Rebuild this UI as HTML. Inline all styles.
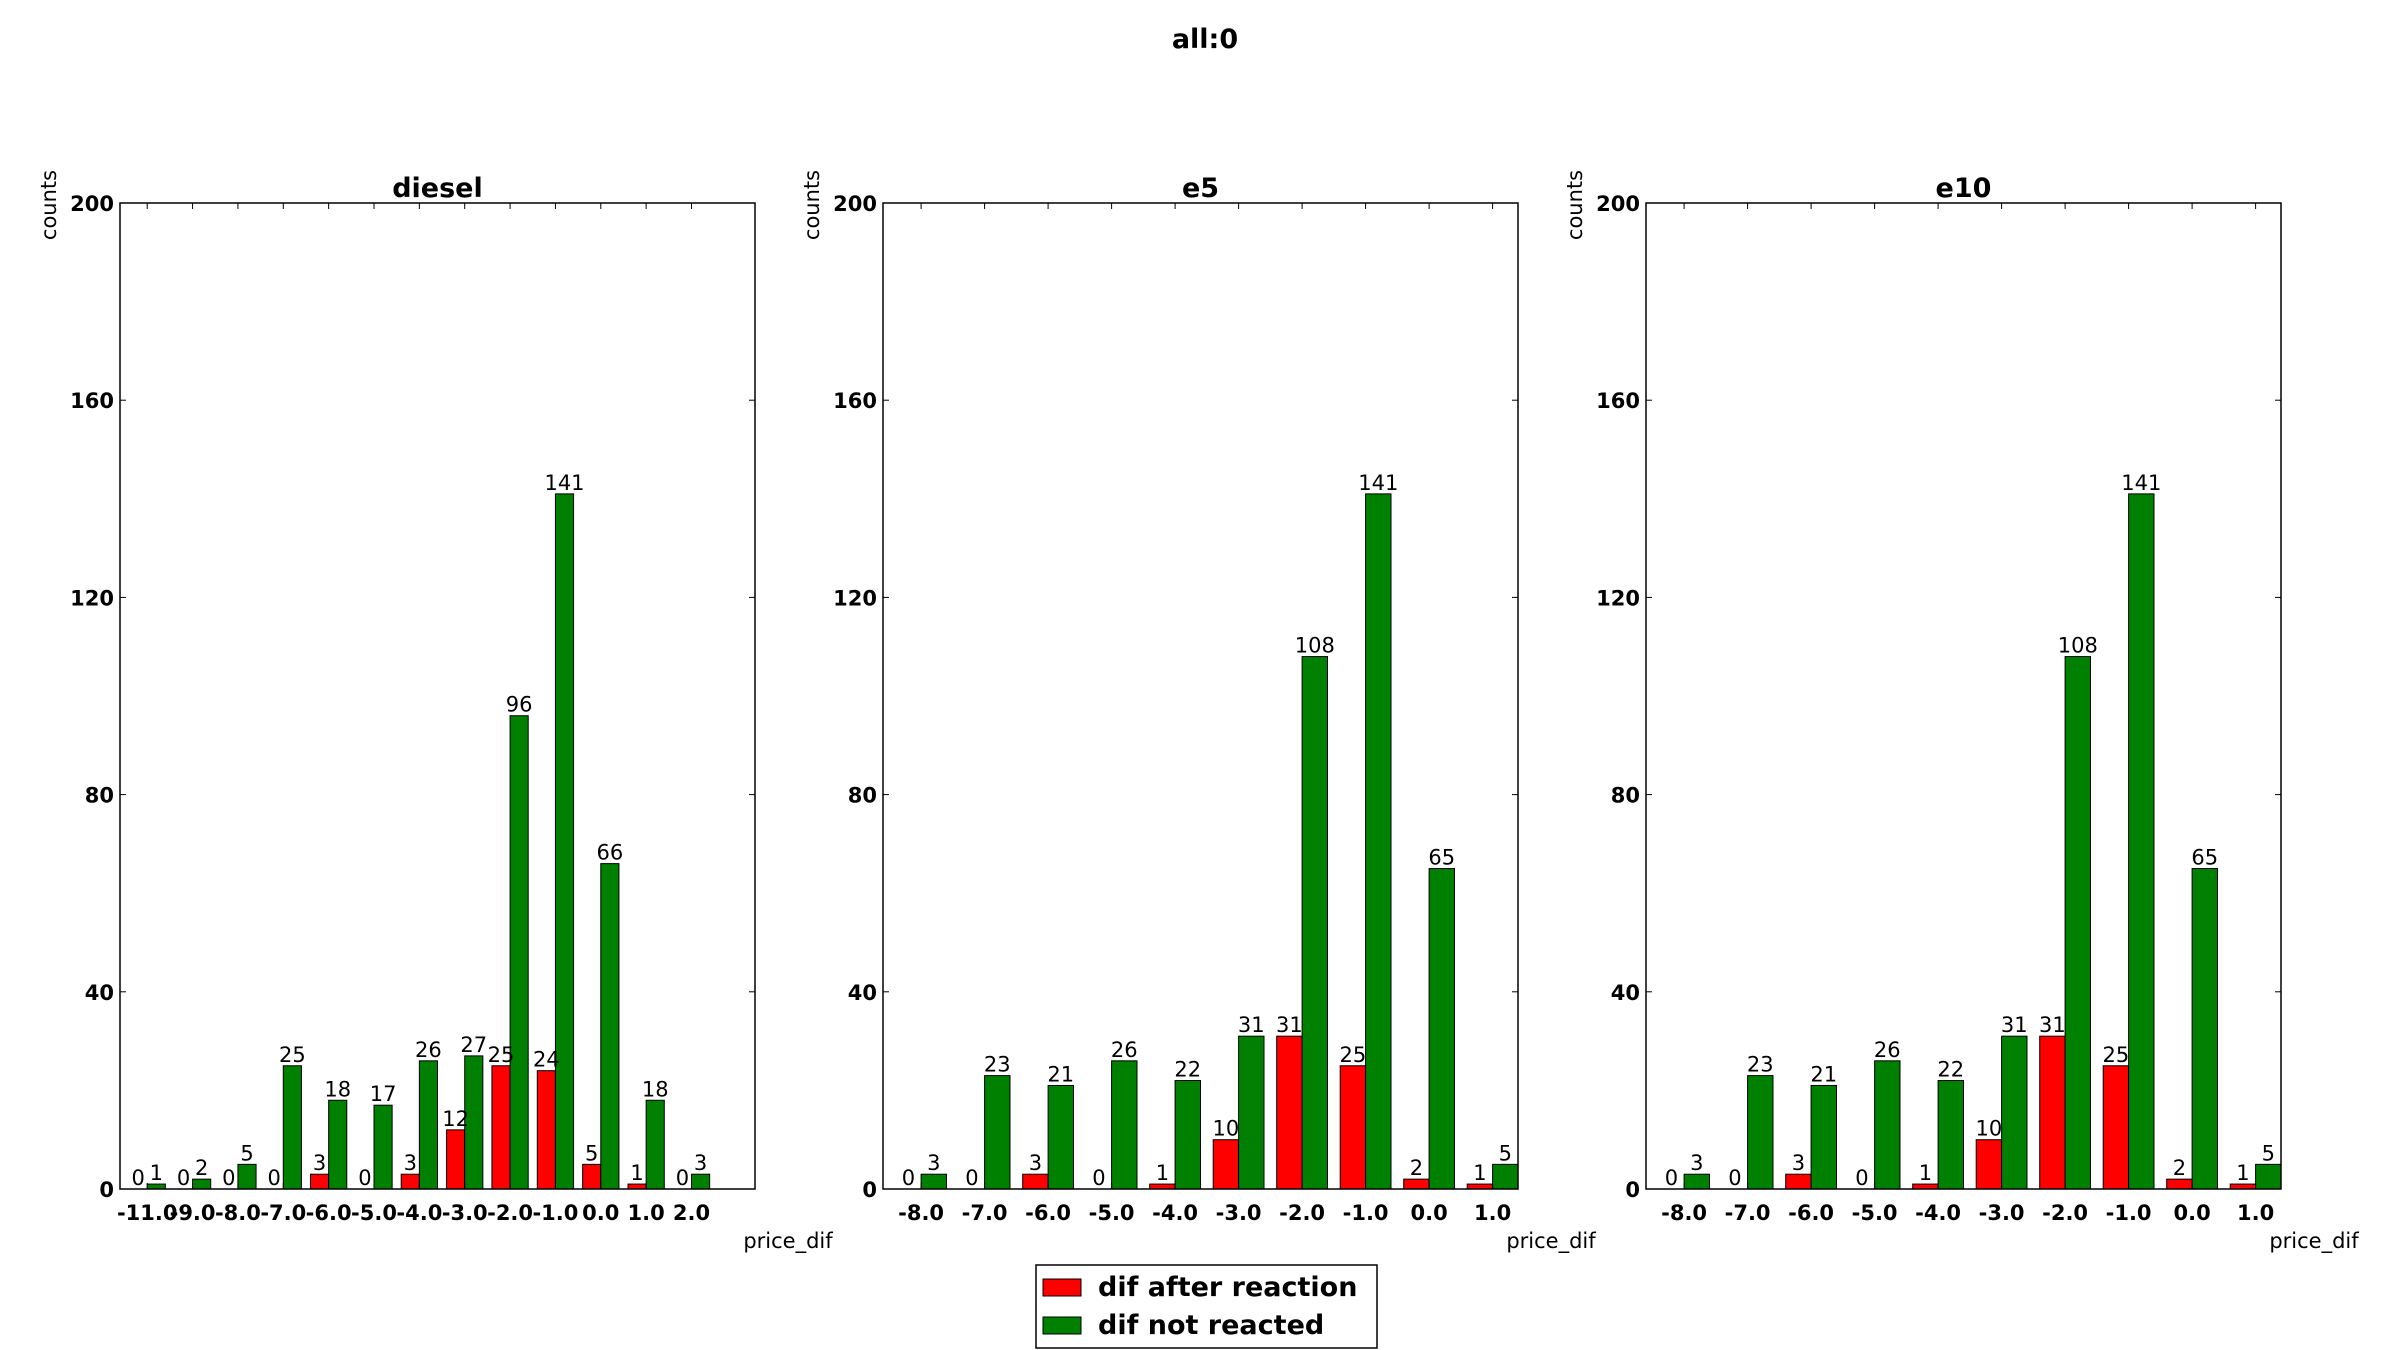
<!DOCTYPE html>
<html><head><meta charset="utf-8"><style>
html,body{margin:0;padding:0;background:#fff;}
svg{display:block;font-family:"DejaVu Sans","Liberation Sans",sans-serif;}
</style></head><body>
<svg id="fig" width="2400" height="1350" viewBox="0 0 2400 1350" xmlns="http://www.w3.org/2000/svg">
<rect width="2400" height="1350" fill="#fff"/>
<text x="1205" y="48" font-size="27" font-weight="bold" text-anchor="middle">all:0</text>
<g id="plots"></g>
<g>
<rect x="1036" y="1265" width="341" height="83" fill="#fff" stroke="#000" stroke-width="1.5"/>
<rect x="1043" y="1279" width="38" height="17" fill="#ff0000" stroke="#000"/>
<text x="1098" y="1296" font-size="27" font-weight="bold">dif after reaction</text>
<rect x="1043" y="1317" width="38" height="17" fill="#008000" stroke="#000"/>
<text x="1098" y="1334" font-size="27" font-weight="bold">dif not reacted</text>
</g>
</svg>
<script>
const dieselCats = ["-11.0","-9.0","-8.0","-7.0","-6.0","-5.0","-4.0","-3.0","-2.0","-1.0","0.0","1.0","2.0"];
const dieselReacted = [0,0,0,0,3,0,3,12,25,24,5,1,0];
const dieselNotReacted = [1,2,5,25,18,17,26,27,96,141,66,18,3];
const e5Cats = ["-8.0","-7.0","-6.0","-5.0","-4.0","-3.0","-2.0","-1.0","0.0","1.0"];
const e5Reacted = [0,0,3,0,1,10,31,25,2,1];
const e5NotReacted = [3,23,21,26,22,31,108,141,65,5];
const e10Cats = ["-8.0","-7.0","-6.0","-5.0","-4.0","-3.0","-2.0","-1.0","0.0","1.0"];
const e10Reacted = [0,0,3,0,1,10,31,25,2,1];
const e10NotReacted = [3,23,21,26,22,31,108,141,65,5];
const yTicks = [0,40,80,120,160,200];

const NS="http://www.w3.org/2000/svg";
const root=document.getElementById('plots');
function mk(tag,attrs,parent){const e=document.createElementNS(NS,tag);for(const k in attrs)e.setAttribute(k,attrs[k]);parent.appendChild(e);return e;}

function panel(name,cats,red,green,x0,x1,xmax){
  const top=203,bot=1189,ymax=200;
  const g=mk('g',{},root);
  
  
  const sx=v=>x0+(v/xmax)*(x1-x0);
  const sy=v=>bot-(v/ymax)*(bot-top);
  const t=mk('text',{x:(x0+x1)/2,y:197,'font-size':27,'font-weight':'bold','text-anchor':'middle'},g);
  
  
  t.textContent=name;
  yTicks.forEach(v=>{
    const y=sy(v);
    const l=mk('text',{x:x0-6,y:y+8,'font-size':21,'font-weight':'bold','text-anchor':'end'},g);
    
    
    l.textContent=v;
    mk('line',{x1:x0,x2:x0+6,y1:y,y2:y,stroke:'#000','stroke-width':1},g);
    mk('line',{x1:x1,x2:x1-6,y1:y,y2:y,stroke:'#000','stroke-width':1},g);
  });
  const yl=mk('text',{x:0,y:0,'font-size':21,'text-anchor':'middle',transform:`translate(${x0-64},205) rotate(-90)`},g);
  
  
  yl.textContent='counts';
  const xl=mk('text',{x:x1+33,y:1248,'font-size':21,'text-anchor':'middle'},g);
  
  
  xl.textContent='price_dif';
  cats.forEach((c,i)=>{
    const bw=sx(0.4)-sx(0);
    const rx=sx(i+0.2), gx=sx(i+0.6);
    const rb=mk('rect',{x:rx,y:sy(red[i]),width:bw,height:bot-sy(red[i]),fill:'#ff0000',stroke:'#000','stroke-width':1},g);
    
    
    const gb=mk('rect',{x:gx,y:sy(green[i]),width:bw,height:bot-sy(green[i]),fill:'#008000',stroke:'#000','stroke-width':1},g);
    
    
    const rt=mk('text',{x:rx+bw/2,y:sy(red[i])-4,'font-size':21,'text-anchor':'middle'},g);
    
    
    rt.textContent=red[i];
    const gt=mk('text',{x:gx+bw/2,y:sy(green[i])-4,'font-size':21,'text-anchor':'middle'},g);
    
    
    gt.textContent=green[i];
    const tx=sx(i+0.6);
    mk('line',{x1:tx,x2:tx,y1:bot,y2:bot-6,stroke:'#000'},g);
    mk('line',{x1:tx,x2:tx,y1:top,y2:top+6,stroke:'#000'},g);
    const tl=mk('text',{x:tx,y:1220,'font-size':21,'font-weight':'bold','text-anchor':'middle'},g);
    
    
    tl.textContent=c;
  });
  const fr=mk('rect',{x:x0,y:top,width:x1-x0,height:bot-top,fill:'none',stroke:'#000','stroke-width':1.5},g);
  
  
}
panel('diesel',dieselCats,dieselReacted,dieselNotReacted,120,755,14);
panel('e5',e5Cats,e5Reacted,e5NotReacted,883,1518,10);
panel('e10',e10Cats,e10Reacted,e10NotReacted,1646,2281,10);
</script>
</body></html>
